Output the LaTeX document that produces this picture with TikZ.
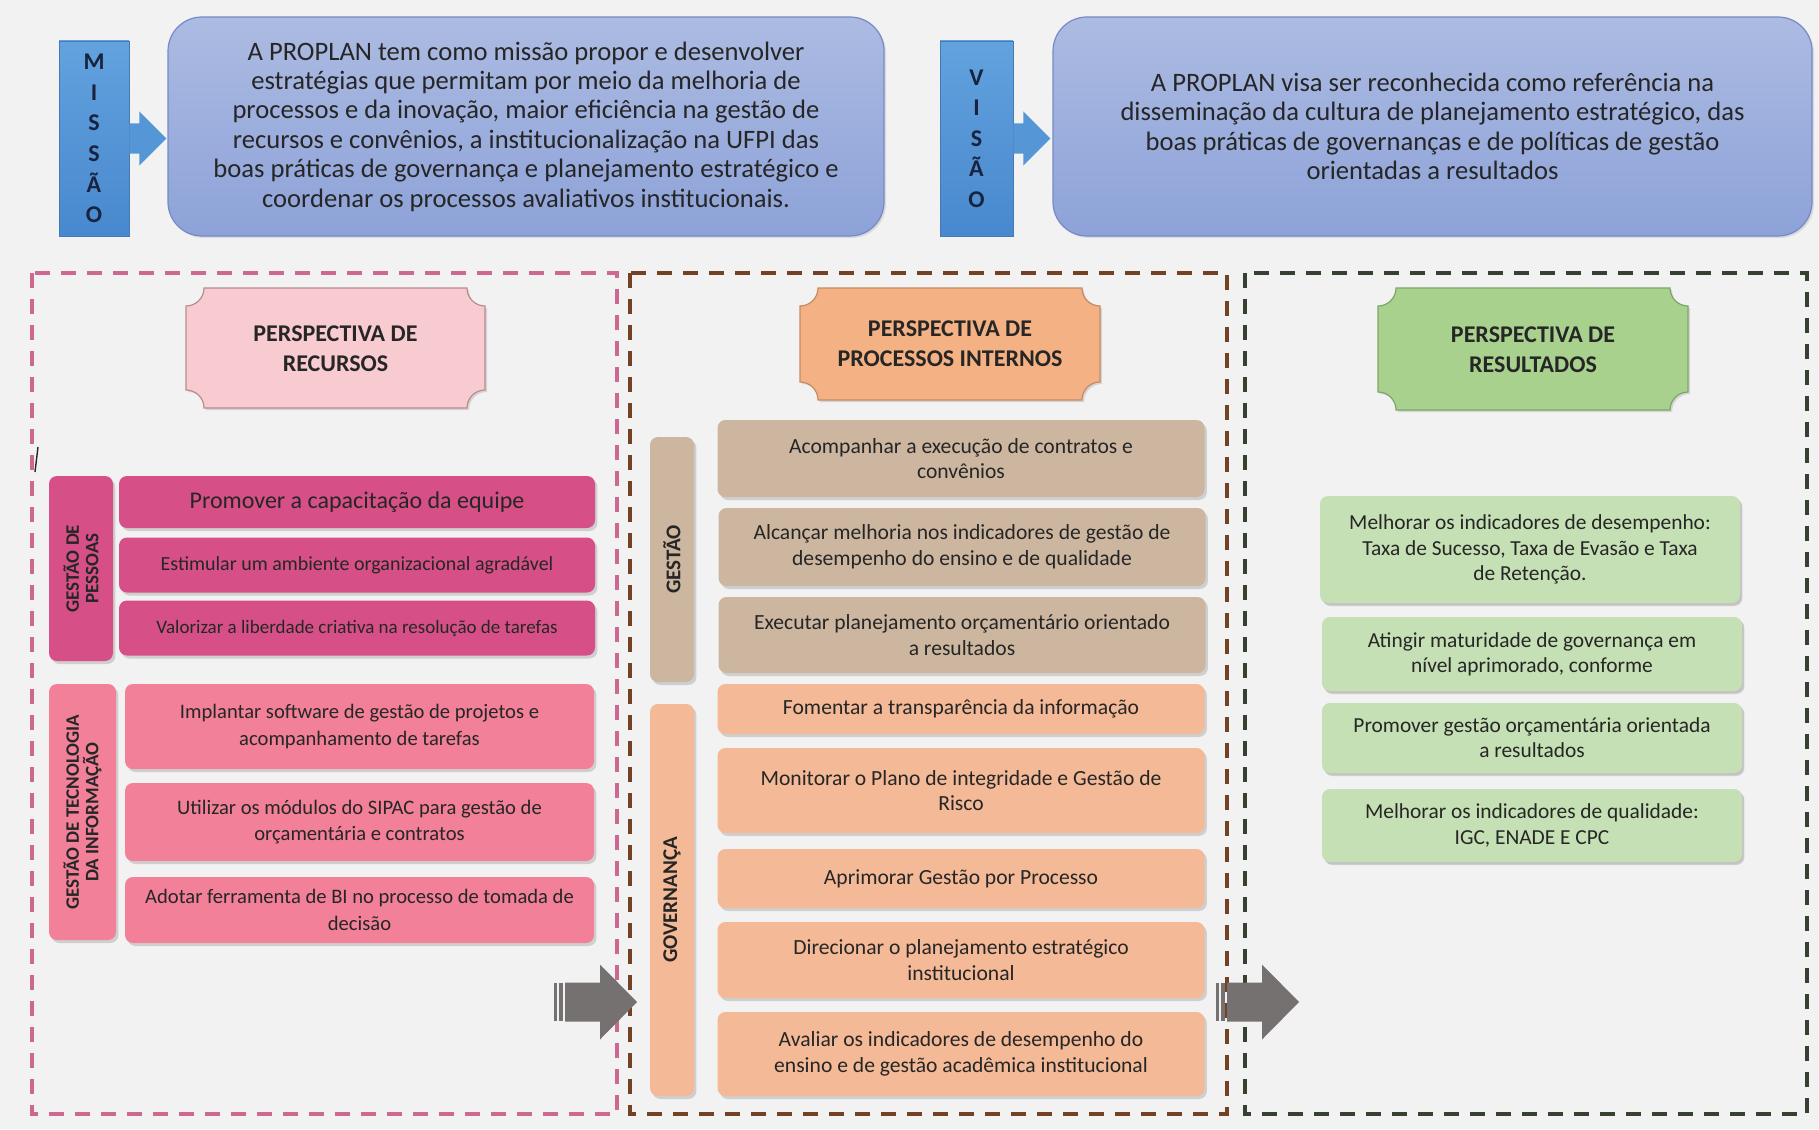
\documentclass[tikz,border=0pt]{standalone}
\usepackage{fontspec}
\setmainfont{Carlito}
\usetikzlibrary{shadows}

\definecolor{bgcol}{RGB}{242,242,242}
\definecolor{txtcol}{RGB}{38,38,38}
\definecolor{navy}{RGB}{25,35,62}
\definecolor{tabtop}{RGB}{98,162,222}
\definecolor{tabbot}{RGB}{72,136,206}
\definecolor{tabline}{RGB}{70,120,180}
\definecolor{arrowblue}{RGB}{84,150,214}
\definecolor{lavtop}{RGB}{172,187,226}
\definecolor{lavbot}{RGB}{141,162,216}
\definecolor{lavline}{RGB}{118,138,198}
\definecolor{pessoas}{RGB}{214,80,135}
\definecolor{tecinfo}{RGB}{241,128,152}
\definecolor{gestcol}{RGB}{204,182,160}
\definecolor{govcol}{RGB}{244,185,150}
\definecolor{rescol}{RGB}{197,224,180}
\definecolor{recplaque}{RGB}{248,203,208}
\definecolor{recline}{RGB}{185,140,148}
\definecolor{procplaque}{RGB}{244,177,131}
\definecolor{procline}{RGB}{196,140,100}
\definecolor{resplaque}{RGB}{169,209,142}
\definecolor{resline}{RGB}{125,165,105}
\definecolor{pinkdash}{RGB}{205,105,145}
\definecolor{browndash}{RGB}{115,65,35}
\definecolor{greendash}{RGB}{55,65,50}
\definecolor{arrowgray}{RGB}{118,113,113}

\newcommand{\plaquepath}[4]{(#1+18,#2) -- (#3-18,#2) arc[start angle=180,end angle=90,radius=18]
  -- (#3,#4-18) arc[start angle=270,end angle=180,radius=18]
  -- (#1+18,#4) arc[start angle=0,end angle=-90,radius=18]
  -- (#1,#2+18) arc[start angle=90,end angle=0,radius=18] -- cycle}

\tikzset{
  tabbox/.style={draw=tabline, line width=0.4pt, top color=tabtop, bottom color=tabbot, text=navy, align=center,
    inner sep=0pt, font=\fontsize{12}{15.3}\selectfont\bfseries, minimum width=35pt, minimum height=97.5pt},
  tabarrow/.style={fill=arrowblue},
  bigbox/.style={draw=lavline, line width=0.6pt, rounded corners=17pt, top color=lavtop, bottom color=lavbot,
    text=txtcol, align=center, font=\fontsize{13.3}{14.7}\selectfont, minimum height=109.5pt,
    drop shadow={shadow xshift=1pt, shadow yshift=-1pt, opacity=0.2}},
  colframe/.style={line width=1.6pt, dash pattern=on 7.5pt off 5.5pt},
  plaque/.style={line width=0.6pt, drop shadow={shadow xshift=1pt, shadow yshift=-1pt, opacity=0.25}},
  plaquetxt/.style={align=center, text=txtcol, font=\fontsize{12}{15}\selectfont\bfseries},
  goal/.style={rounded corners=4pt, align=center, text=txtcol, inner sep=2pt,
    drop shadow={shadow xshift=1.2pt, shadow yshift=-1.5pt, opacity=0.3}},
  vlabel/.style={goal, rotate=90, inner sep=1pt, font=\fontsize{9.5}{9.8}\selectfont\bfseries},
  pessoa/.style={goal, fill=pessoas, minimum width=238pt, font=\fontsize{10}{12.5}\selectfont},
  tecno/.style={goal, fill=tecinfo, minimum width=234.5pt, font=\fontsize{10.3}{13.3}\selectfont},
  gest/.style={goal, fill=gestcol, minimum width=243.5pt, font=\fontsize{10.8}{12.8}\selectfont},
  gov/.style={goal, fill=govcol, minimum width=243.5pt, font=\fontsize{10.8}{12.8}\selectfont},
  res/.style={goal, fill=rescol, minimum width=210pt, font=\fontsize{10.7}{12.6}\selectfont,
    drop shadow={shadow xshift=0.8pt, shadow yshift=-1pt, opacity=0.15}},
  flow/.style={fill=arrowgray}
}

\begin{document}
\begin{tikzpicture}[x=0.5pt,y=-0.5pt]
  \fill[bgcol] (0,0) rectangle (1819,1129);
  \useasboundingbox (0,0) rectangle (1819,1129);

  \node[tabbox] (missao) at (94,138.5) {M\\I\\S\\S\\Ã\\O};
  \node[bigbox, minimum width=358pt] (missaotxt) at (526,126.5) {A PROPLAN tem como missão propor e desenvolver\\
    estratégias que permitam por meio da melhoria de\\
    processos e da inovação, maior eficiência na gestão de\\
    recursos e convênios, a institucionalização na UFPI das\\
    boas práticas de governança e planejamento estratégico e\\
    coordenar os processos avaliativos institucionais.};
  \fill[tabarrow] (missao.east) ++(0,-15) -- ++(10,0) -- ++(0,-12) -- ++(27,27) -- ++(-27,27) -- ++(0,-12) -- ++(-10,0) -- cycle;

  \node[tabbox, minimum width=36.5pt] (visao) at (976.5,138.5) {V\\I\\S\\Ã\\O};
  \node[bigbox, minimum width=379.5pt] (visaotxt) at (1432.5,126.5) {A PROPLAN visa ser reconhecida como referência na\\
    disseminação da cultura de planejamento estratégico, das\\
    boas práticas de governanças e de políticas de gestão\\
    orientadas a resultados};
  \fill[tabarrow] (visao.east) ++(0,-15) -- ++(10,0) -- ++(0,-12) -- ++(27,27) -- ++(-27,27) -- ++(0,-12) -- ++(-10,0) -- cycle;

  \draw[colframe, draw=pinkdash] (32,273) rectangle (617,1114);
  \draw[colframe, draw=browndash] (630,273) rectangle (1227,1114);
  \draw[colframe, draw=greendash] (1245,273) rectangle (1807,1114);

  \draw[plaque, fill=recplaque, draw=recline] \plaquepath{186}{288}{485}{408};
  \node[plaquetxt] (recursos) at (335.5,349) {PERSPECTIVA DE\\RECURSOS};
  \draw[plaque, fill=procplaque, draw=procline] \plaquepath{800}{288}{1100}{400};
  \node[plaquetxt] (processos) at (950,344) {PERSPECTIVA DE\\PROCESSOS INTERNOS};
  \draw[plaque, fill=resplaque, draw=resline] \plaquepath{1378}{288}{1688}{410};
  \node[plaquetxt] (resultados) at (1533,350) {PERSPECTIVA DE\\RESULTADOS};

  \draw[txtcol, line width=0.7pt] (38,447) -- (35,472);

  \node[vlabel, fill=pessoas, minimum width=92.5pt, minimum height=32pt] (pessoas) at (81,568.5) {GESTÃO DE\\PESSOAS};
  \node[pessoa, minimum height=26pt, font=\fontsize{12}{14}\selectfont] (gp1) at (357,502) {Promover a capacitação da equipe};
  \node[pessoa, minimum height=27.5pt] (gp2) at (357,565) {Estimular um ambiente organizacional agradável};
  \node[pessoa, minimum height=27.5pt, font=\fontsize{9.5}{12}\selectfont] (gp3) at (357,628) {Valorizar a liberdade criativa na resolução de tarefas};

  \node[vlabel, fill=tecinfo, minimum width=128pt, minimum height=33.5pt] (tecnologia) at (82.5,812) {GESTÃO DE TECNOLOGIA\\DA INFORMAÇÃO};
  \node[tecno, minimum height=42.5pt] (ti1) at (359.5,726.5) {Implantar software de gestão de projetos e\\acompanhamento de tarefas};
  \node[tecno, minimum height=39pt] (ti2) at (359.5,822) {Utilizar os módulos do SIPAC para gestão de\\orçamentária e contratos};
  \node[tecno, minimum height=33pt] (ti3) at (359.5,910) {Adotar ferramenta de BI no processo de tomada de\\decisão};

  \node[vlabel, fill=gestcol, minimum width=122.5pt, minimum height=22pt, font=\fontsize{10.5}{11}\selectfont\bfseries] (gestao) at (672,559.5) {GESTÃO};
  \node[gest, minimum height=38.5pt] (ge1) at (961,458.5) {Acompanhar a execução de contratos e\\convênios};
  \node[gest, minimum height=39pt] (ge2) at (962,547) {Alcançar melhoria nos indicadores de gestão de\\desempenho do ensino e de qualidade};
  \node[gest, minimum height=38pt] (ge3) at (962,635) {Executar planejamento orçamentário orientado\\a resultados};

  \node[vlabel, fill=govcol, minimum width=196pt, minimum height=22pt, font=\fontsize{10.5}{11}\selectfont\bfseries] (governanca) at (672,900) {GOVERNANÇA};
  \node[gov, minimum height=25pt] (go1) at (961,709) {Fomentar a transparência da informação};
  \node[gov, minimum height=42.5pt] (go2) at (961,790.5) {Monitorar o Plano de integridade e Gestão de\\Risco};
  \node[gov, minimum height=29.5pt] (go3) at (961,878.5) {Aprimorar Gestão por Processo};
  \node[gov, minimum height=38pt] (go4) at (961,960) {Direcionar o planejamento estratégico\\institucional};
  \node[gov, minimum height=42pt] (go5) at (961,1054) {Avaliar os indicadores de desempenho do\\ensino e de gestão acadêmica institucional};

  \node[res, minimum height=53.5pt] (re1) at (1530,549.5) {Melhorar os indicadores de desempenho:\\Taxa de Sucesso, Taxa de Evasão e Taxa\\de Retenção.};
  \node[res, minimum height=37pt] (re2) at (1532,654) {Atingir maturidade de governança em\\nível aprimorado, conforme};
  \node[res, minimum height=35pt] (re3) at (1532,738) {Promover gestão orçamentária orientada\\a resultados};
  \node[res, minimum height=36.5pt] (re4) at (1532,825.5) {Melhorar os indicadores de qualidade:\\IGC, ENADE E CPC};

  \coordinate (flowA) at (554,1002);
  \coordinate (flowB) at (1216,1002);
  \foreach \c in {flowA,flowB} {
    \fill[flow] (\c) ++(0,-19) rectangle ++(3,38);
    \fill[flow] (\c) ++(5,-19) rectangle ++(4,38);
    \fill[flow] (\c) ++(11,-19.5) -- ++(35,0) -- ++(0,-18) -- ++(37,37.5) -- ++(-37,37.5) -- ++(0,-18) -- ++(-35,0) -- cycle;
  }
\end{tikzpicture}
\end{document}
